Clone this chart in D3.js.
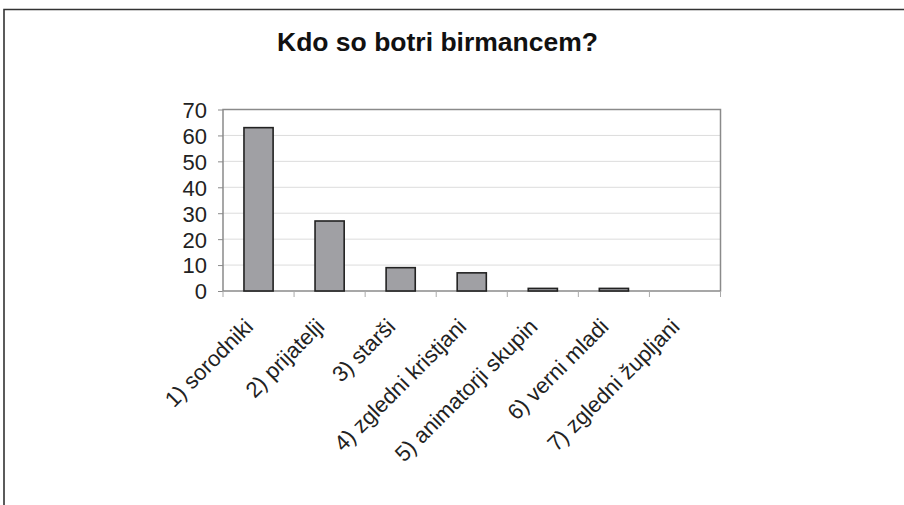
<!DOCTYPE html>
<html><head><meta charset="utf-8">
<script src="https://cdn.jsdelivr.net/npm/d3@7"></script>
<style>body{margin:0;background:#fff}svg{display:block}</style>
</head><body>
<svg id="c" width="904" height="505"></svg>
<script>
const categories = ["1) sorodniki","2) prijatelji","3) starši","4) zgledni kristjani","5) animatorji skupin","6) verni mladi","7) zgledni župljani"];
const values = [63, 27, 9, 7, 1, 1, 0];
const yTicks = [0,10,20,30,40,50,60,70];
const title = "Kdo so botri birmancem?";

const svg = d3.select("#c");
const font = "'Liberation Sans', Arial, sans-serif";
// frame
svg.append("path").attr("d","M4,505 V9.5 H904").attr("fill","none").attr("stroke","#333").attr("stroke-width",1.6);

const L=223, R=720.5, T=109.5, B=291;
const x = d3.scaleBand().domain(categories).range([L,R]).paddingInner(0).paddingOuter(0);
const y = d3.scaleLinear().domain([0,70]).range([B,T]);

// gridlines
svg.append("g").selectAll("line").data(yTicks.filter(d=>d>0&&d<70)).join("line")
  .attr("x1",L).attr("x2",R).attr("y1",d=>y(d)).attr("y2",d=>y(d))
  .attr("stroke","#dcdcdc").attr("stroke-width",1);

// plot border
svg.append("rect").attr("x",L).attr("y",T).attr("width",R-L).attr("height",B-T)
  .attr("fill","none").attr("stroke","#8a8a8a").attr("stroke-width",1.5);

// bars
const bw = x.bandwidth()*0.41;
svg.append("g").selectAll("rect").data(categories.map((c,i)=>({c,v:values[i]})).filter(d=>d.v>0)).join("rect")
  .attr("x",d=>x(d.c)+x.bandwidth()/2-bw/2)
  .attr("y",d=>y(d.v)).attr("width",bw).attr("height",d=>B-y(d.v))
  .attr("fill","#a0a0a4").attr("stroke","#222").attr("stroke-width",1.6);

// y axis
const yAxis = d3.axisLeft(y).tickValues(yTicks).tickSize(5).tickPadding(11);
const gy = svg.append("g").attr("transform",`translate(${L},0)`).call(yAxis);
gy.select(".domain").remove();
gy.selectAll(".tick line").attr("stroke","#8a8a8a");
gy.selectAll(".tick text").attr("font-family",font).attr("font-size",22).attr("fill","#222").attr("dy","0.36em");

// x axis ticks at boundaries
const bounds = categories.map(c=>x(c)).concat([R]);
svg.append("g").selectAll("line").data(bounds).join("line")
  .attr("x1",d=>d).attr("x2",d=>d).attr("y1",B).attr("y2",B+6)
  .attr("stroke","#aaa").attr("stroke-width",1);

// x labels
svg.append("g").selectAll("text").data(categories).join("text")
  .attr("transform",d=>`translate(${x(d)+x.bandwidth()/2-4},328) rotate(-45)`)
  .attr("text-anchor","end")
  .attr("font-family",font).attr("font-size",22).attr("fill","#222")
  .text(d=>d);

// title
svg.append("text").attr("x",437.5).attr("y",51).attr("text-anchor","middle")
  .attr("font-family",font).attr("font-weight","bold").attr("font-size",26.5).attr("fill","#111")
  .text(title);
</script>
</body></html>
